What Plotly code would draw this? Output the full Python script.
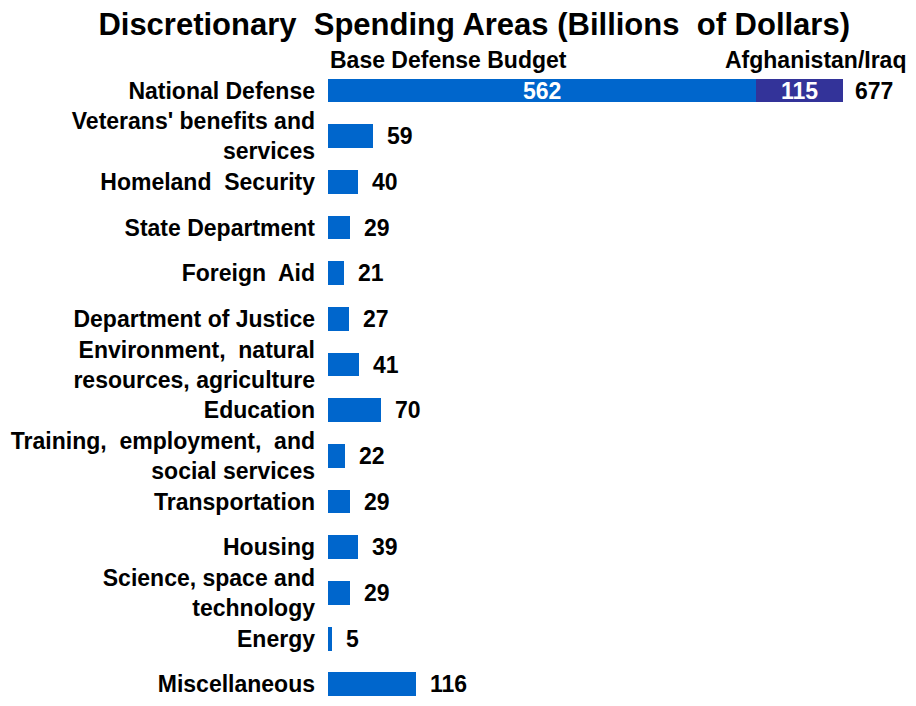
import plotly.graph_objects as go

categories = [
    "National Defense",
    "Veterans' benefits and<br>services",
    "Homeland  Security",
    "State Department",
    "Foreign  Aid",
    "Department of Justice",
    "Environment,  natural<br>resources, agriculture",
    "Education",
    "Training,  employment,  and<br>social services",
    "Transportation",
    "Housing",
    "Science, space and<br>technology",
    "Energy",
    "Miscellaneous",
]
base_values = [562, 59, 40, 29, 21, 27, 41, 70, 22, 29, 39, 29, 5, 116]
war_values = [115, None, None, None, None, None, None, None, None, None, None, None, None, None]
title_text = "Discretionary  Spending Areas (Billions  of Dollars)"
series_names = ["Base Defense Budget", "Afghanistan/Iraq"]

BLUE = "#0066CC"
PURPLE = "#333399"
FONT = "Liberation Sans"
LBL = dict(size=23, family=FONT, color="black", weight="bold")
WLBL = dict(size=23, family=FONT, color="white", weight="bold")

fig = go.Figure()
fig.add_trace(go.Bar(
    y=categories, x=base_values, orientation="h", name=series_names[0],
    marker=dict(color=BLUE, line=dict(width=0)), cliponaxis=False,
))
fig.add_trace(go.Bar(
    y=categories, x=war_values, orientation="h", name=series_names[1],
    marker=dict(color=PURPLE, line=dict(width=0)), cliponaxis=False,
))

# value labels
for c, b, w in zip(categories, base_values, war_values):
    if w is not None:
        fig.add_annotation(x=b / 2, y=c, text=str(b), showarrow=False,
                           xanchor="center", font=WLBL)
        fig.add_annotation(x=b + w / 2, y=c, text=str(w), showarrow=False,
                           xanchor="center", font=WLBL)
        fig.add_annotation(x=b + w, y=c, text=str(b + w), showarrow=False,
                           xanchor="left", xshift=10, font=LBL)
    else:
        fig.add_annotation(x=b, y=c, text=str(b), showarrow=False,
                           xanchor="left", xshift=12, font=LBL)

fig.add_annotation(xref="paper", yref="paper", x=0, y=1, xanchor="left", yanchor="bottom",
                   text=series_names[0], showarrow=False, xshift=0, yshift=-5, font=LBL)
fig.add_annotation(xref="paper", yref="paper", x=1, y=1, xanchor="right", yanchor="bottom",
                   text=series_names[1], showarrow=False, xshift=0, yshift=-5, font=LBL)

fig.update_layout(
    width=900, height=690,
    barmode="stack", bargap=0.48,
    showlegend=False,
    plot_bgcolor="white", paper_bgcolor="white",
    margin=dict(l=320, r=0, t=62, b=0),
    title=dict(text=title_text, x=0.518, xanchor="center", y=0.977, yanchor="middle",
               font=dict(size=31, family=FONT, color="black", weight="bold")),
    xaxis=dict(range=[0, 762], visible=False, fixedrange=True, automargin=False),
    yaxis=dict(categoryorder="array", categoryarray=categories, range=[13.3, -0.45],
               showgrid=False, showline=False, zeroline=False, ticks="",
               ticklabelstandoff=12, fixedrange=True, automargin=False,
               tickfont=dict(size=23, family=FONT, color="black", weight="bold")),
    font=dict(family=FONT, color="black"),
)

fig.write_html("out.html")
